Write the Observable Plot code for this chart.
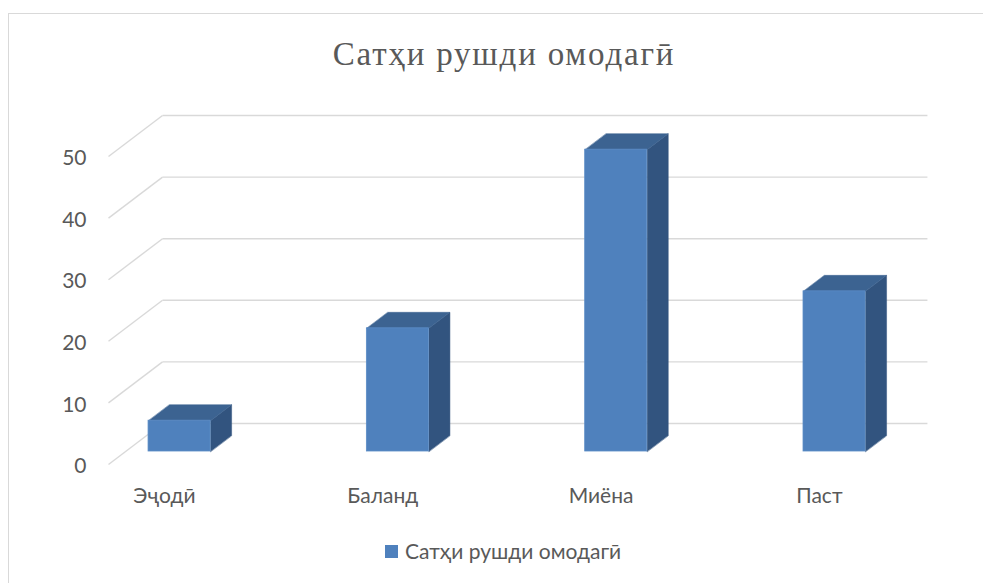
<!DOCTYPE html>
<html>
<head>
<meta charset="utf-8">
<script src="https://cdn.jsdelivr.net/npm/d3@7"></script>
<script src="https://cdn.jsdelivr.net/npm/@observablehq/plot@0.6"></script>
<style>
  html, body { margin: 0; padding: 0; background: #fff; }
  #wrap { position: relative; width: 983px; height: 583px; overflow: hidden; }
  #border { position: absolute; left: 8px; top: 13px; width: 1000px; height: 700px; border: 1px solid #d9d9d9; box-sizing: border-box; }
  #title { position: absolute; left: 0; width: 1008px; top: 36px; text-align: center; font-family: "Liberation Serif", "DejaVu Serif", serif; font-size: 33px; letter-spacing: 1.8px; color: #595959; line-height: 36px; }
  #chart { position: absolute; left: 0; top: 0; }
  #legend { position: absolute; left: 385px; top: 538px; font-family: Lato, "Noto Sans", sans-serif; font-size: 21px; color: #595959; display: flex; align-items: center; line-height: 26px; }
  #legend .sw { width: 13px; height: 13px; background: #4f81bd; margin-right: 7px; }
</style>
</head>
<body>
<div id="wrap">
  <div id="border"></div>
  <div id="chart"></div>
  <div id="title"></div>
  <div id="legend"></div>
</div>
<script>
// ---- data ----
const categories = ["Эҷодӣ", "Баланд", "Миёна", "Паст"];
const values = [5, 20, 49, 26];
const yTicks = [0, 10, 20, 30, 40, 50];
const seriesName = "Сатҳи рушди омодагӣ";
const chartTitle = "Сатҳи рушди омодагӣ";

// ---- 3D projection (in data units) ----
const DX = 0.2474, DY = 6.656;   // full floor depth
const F1 = 0.317, F2 = 0.707;    // bar depth span
const HW = 0.142;                // half bar width
const XL = -0.247, XR = 3.257;   // front plane x extent
const XBACK_END = 3.504;

const bars = categories.map((c, i) => ({ c, i, v: values[i] }));

const fronts = bars.map(d => ({ ...d, xa: d.i + F1 * DX - HW, xb: d.i + F1 * DX + HW, y0: F1 * DY, y1: F1 * DY + d.v }));
const ddx = (F2 - F1) * DX, ddy = (F2 - F1) * DY;
const tops = [], sides = [];
fronts.forEach(d => {
  [[d.xa, d.y1], [d.xb, d.y1], [d.xb + ddx, d.y1 + ddy], [d.xa + ddx, d.y1 + ddy]]
    .forEach(([x, y]) => tops.push({ id: d.c, x, y }));
  [[d.xb, d.y0], [d.xb, d.y1], [d.xb + ddx, d.y1 + ddy], [d.xb + ddx, d.y0 + ddy]]
    .forEach(([x, y]) => sides.push({ id: d.c, x, y }));
});

const plot = Plot.plot({
  width: 983,
  height: 583,
  marginLeft: 108,
  marginRight: 110,
  marginTop: 156,
  marginBottom: 119,
  x: { domain: [XL, XR] },
  y: { domain: [0, 50] },
  style: { fontFamily: "Lato, 'Noto Sans', sans-serif", fontSize: "21px", color: "#595959", background: "transparent", overflow: "visible" },
  marks: [
    // back wall gridlines
    Plot.link(yTicks, { x1: () => XL + DX, x2: () => XBACK_END, y1: v => v + DY, y2: v => v + DY, stroke: "#d9d9d9", strokeWidth: 1.4 }),
    // side wall diagonal gridlines
    Plot.link(yTicks, { x1: () => XL, x2: () => XL + DX, y1: v => v, y2: v => v + DY, stroke: "#d9d9d9", strokeWidth: 1.4 }),
    // bar side faces
    Plot.line(sides, { x: "x", y: "y", z: "id", curve: "linear-closed", fill: "#32547f", stroke: "#32547f", strokeWidth: 0.5 }),
    // bar top faces
    Plot.line(tops, { x: "x", y: "y", z: "id", curve: "linear-closed", fill: "#3c6391", stroke: "#3c6391", strokeWidth: 0.5 }),
    // bar front faces
    Plot.rect(fronts, { x1: "xa", x2: "xb", y1: "y0", y2: "y1", fill: "#4f81bd", stroke: "#5b8cc6", strokeWidth: 0.8 }),
    Plot.axisY(yTicks, { tickSize: 0, tickPadding: 22, dy: 2 }),
    Plot.axisX([0, 1, 2, 3], { tickFormat: i => categories[i], tickSize: 0, tickPadding: 24, dx: 2 })
  ]
});
document.getElementById("chart").appendChild(plot);
document.getElementById("title").textContent = chartTitle;
document.getElementById("legend").innerHTML = '<span class="sw"></span><span></span>';
document.querySelector("#legend span:last-child").textContent = seriesName;
</script>
</body>
</html>
